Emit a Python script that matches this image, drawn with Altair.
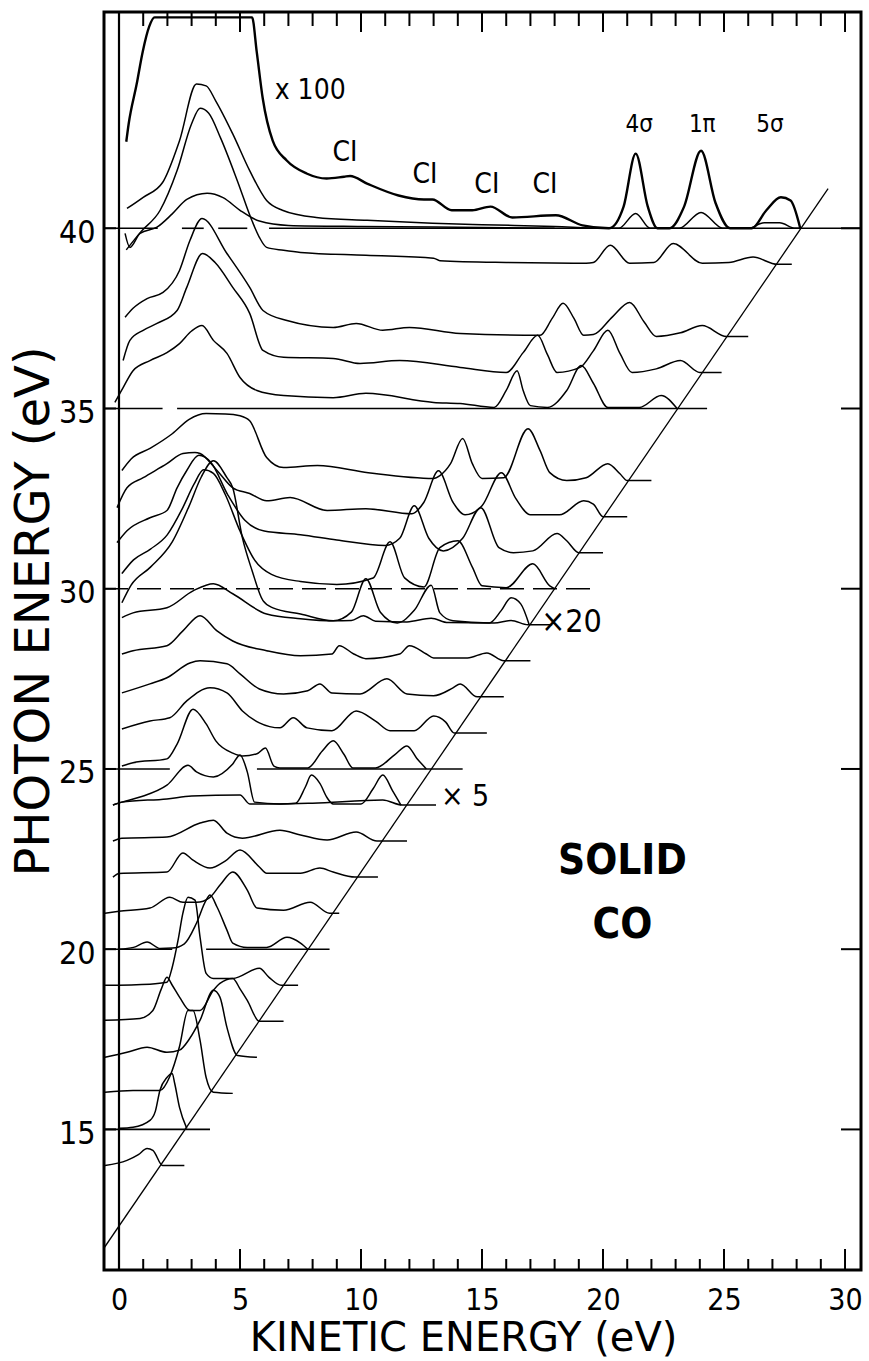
import altair as alt
import pandas as pd

# ---------------- axis ranges ----------------
XMIN, XMAX = -0.62, 30.66
YMIN, YMAX = 11.1, 46.0
W, H = 757, 1258
FONT = "DejaVu Sans Condensed, DejaVu Sans, Liberation Sans, sans-serif"
TFONT = "DejaVu Sans, Liberation Sans, sans-serif"

# ---------------- spectra (kinetic energy, height above baseline hv) -------------
ke_14 = [-0.58, 0.33, 0.8, 1.16, 1.4, 1.8, 2.7]
off_14 = [0.0, 0.14, 0.3, 0.47, 0.42, 0.0, 0.0]
ke_15 = [0.0, 0.58, 1.28, 1.5, 1.69, 1.98, 2.2, 2.3, 2.5, 2.8]
off_15 = [0.03, 0.06, 0.25, 0.5, 1.08, 1.44, 1.55, 1.28, 0.61, 0.03]
ke_16 = [-0.58, 0.58, 1.69, 2.1, 2.5, 2.85, 3.06, 3.35, 3.6, 3.9, 4.7]
off_16 = [0.03, 0.08, 0.08, 0.47, 1.3, 2.3, 2.3, 1.47, 0.44, 0.03, 0.0]
ke_17 = [-0.58, 0.33, 1.16, 1.98, 2.5, 2.9, 3.35, 3.9, 4.17, 4.46, 4.9, 5.7]
off_17 = [0.0, 0.14, 0.28, 0.14, 0.2, 0.5, 1.03, 1.86, 1.67, 0.83, 0.05, 0.0]
ke_18 = [-0.58, 0.87, 1.4, 1.75, 1.98, 2.2, 2.5, 2.93, 3.35, 3.9, 4.17, 4.7, 5.0, 5.3, 5.8, 6.8]
off_18 = [0.03, 0.08, 0.3, 0.9, 1.22, 1.0, 0.67, 0.3, 0.3, 0.86, 1.05, 1.19, 0.9, 0.58, 0.0, 0.0]
ke_19 = [-0.58, 1.28, 1.98, 2.2, 2.44, 2.64, 2.85, 3.14, 3.35, 3.6, 3.9, 4.7, 5.8, 6.2, 6.7, 7.4]
off_19 = [0.0, 0.03, 0.08, 0.5, 1.25, 2.0, 2.44, 2.36, 1.33, 0.33, 0.19, 0.19, 0.47, 0.22, 0.0, 0.0]
ke_20 = [0.0, 0.6, 1.16, 1.7, 2.2, 2.7, 3.2, 3.6, 3.76, 4.05, 4.46, 4.7, 5.3, 6.1, 6.94, 7.5, 7.8]
off_20 = [0.0, 0.05, 0.2, 0.02, 0.03, 0.15, 0.72, 1.36, 1.5, 1.17, 0.53, 0.17, 0.05, 0.05, 0.33, 0.17, 0.0]
ke_21 = [-0.58, 0.0, 1.28, 2.1, 2.64, 3.2, 3.76, 4.2, 4.7, 5.3, 5.7, 6.8, 7.9, 8.7, 9.1]
off_21 = [0.0, 0.05, 0.14, 0.44, 0.3, 0.3, 0.44, 0.8, 1.14, 0.64, 0.14, 0.08, 0.3, 0.0, 0.0]
ke_22 = [-0.25, 0.0, 1.98, 2.64, 3.06, 3.76, 4.4, 5.0, 5.8, 6.1, 7.5, 8.3, 8.85, 9.75, 10.7]
off_22 = [0.0, 0.1, 0.14, 0.67, 0.47, 0.25, 0.45, 0.75, 0.28, 0.11, 0.11, 0.25, 0.14, 0.0, 0.0]
ke_23 = [-0.25, 0.12, 1.98, 3.35, 3.9, 4.46, 5.1, 6.65, 7.5, 8.6, 9.8, 10.66, 11.9]
off_23 = [0.0, 0.08, 0.11, 0.5, 0.58, 0.22, 0.08, 0.3, 0.17, 0.03, 0.25, 0.0, 0.0]
ke_24 = [-0.25, 0.12, 1.98, 3.0, 5.0, 5.4, 6.6, 8.0, 10.9, 11.7, 13.1]
off_24 = [0.0, 0.08, 0.17, 0.25, 0.28, 0.03, 0.03, 0.05, 0.14, 0.0, 0.0]
# 24 eV spectrum magnified x5
ke_24x5 = [-0.25, 0.12, 0.87, 1.98, 2.85, 3.2, 3.9, 4.7, 5.0, 5.3, 5.6, 6.65, 7.3, 7.7, 7.95,
           8.3, 8.6, 8.85, 10.0, 10.5, 10.9, 11.3, 11.65]
off_24x5 = [0.0, 0.08, 0.22, 0.55, 1.1, 0.92, 0.78, 1.14, 1.39, 0.92, 0.08, 0.03, 0.05, 0.5, 0.83,
            0.6, 0.2, 0.03, 0.03, 0.45, 0.83, 0.4, 0.0]
ke_25 = [0.12, 0.58, 1.98, 2.4, 3.06, 3.6, 4.0, 4.7, 5.1, 5.7, 6.05, 6.4, 6.65, 7.8, 8.4, 8.85,
         9.3, 9.66, 10.6, 11.4, 11.9, 12.3, 12.7]
off_25 = [0.08, 0.17, 0.28, 0.69, 1.66, 1.25, 0.78, 0.44, 0.36, 0.42, 0.58, 0.08, 0.03, 0.03, 0.5,
          0.78, 0.4, 0.03, 0.03, 0.4, 0.64, 0.3, 0.0]
ke_26 = [0.12, 1.28, 2.1, 2.8, 3.76, 4.46, 5.1, 5.8, 6.65, 7.2, 7.77, 8.8, 9.8, 10.6, 11.2, 12.2,
         13.0, 13.5, 13.85, 15.2]
off_26 = [0.11, 0.33, 0.42, 0.89, 1.25, 1.11, 0.61, 0.28, 0.14, 0.42, 0.14, 0.06, 0.61, 0.33, 0.06,
          0.06, 0.47, 0.3, 0.0, 0.0]
ke_27 = [0.12, 1.28, 1.98, 2.93, 3.35, 4.46, 5.0, 5.8, 6.8, 7.8, 8.3, 8.8, 9.96, 11.07, 11.9, 13.0,
         13.8, 14.1, 14.8, 15.9]
off_27 = [0.11, 0.36, 0.53, 0.94, 1.0, 0.92, 0.64, 0.22, 0.08, 0.17, 0.36, 0.11, 0.08, 0.5, 0.08,
          0.03, 0.25, 0.36, 0.0, 0.0]
ke_28 = [0.12, 0.58, 1.98, 2.64, 3.35, 4.05, 4.7, 6.1, 7.5, 8.8, 9.1, 9.7, 10.2, 11.6, 12.0, 12.7,
         13.0, 14.4, 15.2, 15.9, 17.0]
off_28 = [0.19, 0.28, 0.42, 0.83, 1.25, 0.83, 0.55, 0.28, 0.14, 0.19, 0.42, 0.19, 0.06, 0.19, 0.42,
          0.19, 0.08, 0.08, 0.22, 0.0, 0.0]
ke_29 = [0.12, 0.58, 1.98, 3.06, 3.9, 4.7, 6.1, 7.5, 8.85, 9.6, 10.1, 10.6, 11.9, 12.9, 13.6,
         15.5, 16.2, 16.9, 17.9]
off_29 = [0.2, 0.33, 0.47, 0.94, 1.14, 0.86, 0.3, 0.17, 0.11, 0.12, 0.25, 0.1, 0.08, 0.18, 0.06,
          0.05, 0.12, 0.0, 0.0]
# 29 eV spectrum magnified x20
ke_29x20 = [0.12, 0.5, 1.3, 2.2, 2.9, 3.4, 3.9, 4.46, 4.7, 5.1, 5.5, 5.95, 6.36, 7.5, 8.85, 9.6,
            10.2, 10.8, 11.5, 12.2, 12.9, 13.26, 13.8, 15.3, 15.8, 16.2, 16.6, 16.95]
off_29x20 = [0.61, 1.1, 1.6, 2.3, 3.3, 4.1, 4.55, 4.08, 3.8, 2.41, 1.5, 0.67, 0.47, 0.3, 0.11, 0.35,
             1.28, 0.35, 0.05, 0.4, 1.1, 0.33, 0.11, 0.05, 0.4, 0.75, 0.58, 0.0]
ke_30 = [0.12, 0.6, 1.3, 2.0, 2.6, 3.1, 3.5, 3.9, 4.4, 5.0, 5.6, 6.3, 7.5, 9.0, 10.5, 11.2, 11.8,
         12.6, 13.26, 14.0, 14.6, 15.0, 16.0, 17.1, 17.8, 18.0]
off_30 = [0.42, 0.8, 1.1, 1.5, 2.2, 2.9, 3.3, 3.2, 2.6, 1.6, 0.8, 0.4, 0.2, 0.12, 0.3, 1.3, 0.3,
          0.05, 1.14, 1.33, 0.6, 0.08, 0.03, 0.69, 0.08, 0.0]
ke_31 = [-0.08, 0.33, 1.28, 1.98, 2.4, 2.8, 3.3, 3.8, 4.5, 5.2, 6.0, 7.5, 9.0, 11.0, 11.6, 12.2,
         12.8, 13.4, 14.2, 14.95, 15.7, 16.3, 17.1, 18.1, 18.5, 19.0, 20.0]
off_31 = [0.28, 0.61, 0.97, 1.17, 1.8, 2.28, 2.7, 2.5, 1.6, 0.9, 0.6, 0.5, 0.35, 0.2, 0.4, 1.3,
          0.4, 0.05, 0.4, 1.25, 0.14, 0.0, 0.05, 0.53, 0.33, 0.0, 0.0]
ke_32 = [-0.08, 0.33, 1.0, 1.98, 2.64, 3.14, 3.35, 4.05, 4.7, 5.4, 6.1, 7.07, 8.6, 10.2, 12.1,
         12.6, 13.2, 13.8, 14.3, 15.0, 15.8, 16.4, 17.0, 18.2, 19.2, 19.6, 20.0, 21.0]
off_32 = [0.25, 0.8, 1.08, 1.47, 1.75, 1.78, 1.75, 1.28, 0.8, 0.64, 0.44, 0.53, 0.17, 0.22, 0.08,
          0.4, 1.27, 0.4, 0.05, 0.3, 1.22, 0.5, 0.05, 0.05, 0.44, 0.35, 0.0, 0.0]
ke_33 = [0.12, 0.5, 1.3, 2.2, 2.9, 3.6, 4.4, 5.0, 5.4, 6.1, 6.8, 8.2, 10.3, 13.0, 13.26, 13.7,
         14.2, 14.6, 15.0, 15.9, 16.9, 17.4, 17.8, 18.5, 19.3, 20.2, 20.7, 21.0, 22.0]
off_33 = [0.28, 0.6, 0.9, 1.3, 1.7, 1.86, 1.85, 1.8, 1.66, 0.64, 0.36, 0.42, 0.22, 0.06, 0.14, 0.47,
          1.17, 0.47, 0.06, 0.08, 1.44, 0.83, 0.22, 0.0, 0.08, 0.47, 0.19, 0.0, 0.0]
ke_35 = [-0.17, 0.17, 0.58, 1.28, 1.98, 2.5, 3.0, 3.43, 3.9, 4.46, 5.0, 5.7, 6.8, 8.85, 10.2, 13.0,
         14.1, 15.5, 16.0, 16.45, 16.7, 17.0, 17.7, 18.5, 19.1, 19.6, 20.2, 21.5, 22.4, 23.06]
off_35 = [0.17, 0.58, 1.05, 1.33, 1.55, 1.8, 2.15, 2.3, 1.89, 1.53, 0.86, 0.5, 0.36, 0.3, 0.42, 0.17,
          0.14, 0.03, 0.5, 1.05, 0.5, 0.08, 0.03, 0.5, 1.19, 0.7, 0.03, 0.03, 0.36, 0.0]
ke_36 = [0.17, 0.45, 1.0, 1.57, 2.4, 2.8, 3.45, 3.97, 4.7, 5.4, 5.95, 6.8, 8.85, 9.96, 11.6, 14.1,
         16.0, 16.7, 17.3, 17.7, 18.1, 19.05, 19.6, 20.2, 20.7, 21.2, 22.2, 23.2, 24.0, 24.9]
off_36 = [0.33, 0.89, 1.17, 1.36, 1.72, 2.36, 3.3, 3.05, 2.36, 1.64, 0.61, 0.42, 0.39, 0.25, 0.33,
          0.14, 0.0, 0.55, 1.03, 0.5, 0.0, 0.14, 0.6, 1.17, 0.53, 0.0, 0.1, 0.33, 0.0, 0.0]
ke_37 = [0.25, 0.58, 1.16, 1.82, 2.5, 2.93, 3.43, 4.46, 5.4, 5.95, 6.94, 8.85, 9.8, 10.9, 12.0,
         14.1, 17.4, 17.9, 18.35, 18.8, 19.2, 19.6, 20.4, 21.1, 21.7, 22.2, 23.2, 24.1, 25.1, 26.0]
off_37 = [0.53, 0.78, 1.05, 1.22, 1.83, 2.66, 3.27, 2.3, 1.36, 0.72, 0.44, 0.25, 0.36, 0.17, 0.25,
          0.08, 0.03, 0.5, 0.92, 0.5, 0.03, 0.05, 0.55, 0.94, 0.4, 0.0, 0.1, 0.3, 0.0, 0.0]
ke_39 = [0.3, 0.9, 1.7, 2.4, 3.0, 3.35, 3.7, 4.2, 4.9, 5.5, 5.8, 6.1, 6.8, 7.5, 10.2, 13.0, 13.26,
         16.0, 19.3, 19.6, 20.3, 21.1, 22.1, 22.9, 24.1, 25.2, 26.2, 27.2, 27.8]
off_39 = [0.4, 0.9, 1.5, 2.6, 3.9, 4.33, 4.2, 3.5, 2.3, 1.2, 0.75, 0.47, 0.39, 0.33, 0.25, 0.17,
          0.1, 0.05, 0.03, 0.05, 0.53, 0.03, 0.05, 0.58, 0.03, 0.05, 0.2, 0.0, 0.0]
ke_40 = [0.25, 0.45, 0.87, 1.57, 2.2, 2.8, 3.64, 4.3, 5.0, 5.8, 7.0, 10.0, 14.0, 18.0]
off_40 = [-0.14, -0.53, -0.14, 0.03, 0.4, 0.8, 0.97, 0.85, 0.5, 0.2, 0.08, 0.05, 0.03, 0.0]
# 40 eV spectrum magnified x5
ke_40x5 = [0.33, 1.0, 1.8, 2.5, 3.2, 3.6, 4.0, 4.7, 5.4, 6.1, 6.75, 8.15, 10.25, 12.95, 15.0,
           18.0, 20.0, 20.65, 21.35, 21.95, 22.6, 23.15, 24.05, 24.95, 26.0, 26.65, 27.3, 27.95, 28.2]
off_40x5 = [0.55, 0.86, 1.27, 2.43, 4.0, 3.95, 3.53, 2.62, 1.6, 0.77, 0.5, 0.3, 0.22, 0.14, 0.1,
            0.05, 0.0, 0.0, 0.41, 0.0, 0.0, 0.0, 0.44, 0.0, 0.0, 0.15, 0.15, 0.0, 0.0]
# 40 eV spectrum magnified x100
ke_40x100 = [0.3, 0.4, 0.73, 0.98, 1.25, 1.47, 5.5, 5.69, 5.94, 6.35, 6.93, 7.75, 8.58, 9.3, 9.55,
             10.25, 11.55, 12.6, 12.95, 13.75, 14.6, 15.35, 16.25, 18.05, 19.15, 20.25, 20.85,
             21.35, 21.85, 22.25, 22.75, 23.35, 24.05, 24.65, 25.25, 26.15, 26.75, 27.35, 27.75, 28.15]
off_40x100 = [2.4, 2.9, 4.0, 4.9, 5.6, 5.85, 5.85, 4.9, 3.6, 2.43, 1.88, 1.52, 1.38, 1.43, 1.45,
              1.24, 0.91, 0.8, 0.8, 0.5, 0.5, 0.6, 0.3, 0.36, 0.08, 0.0, 0.6, 2.07, 0.6, 0.0,
              0.0, 0.6, 2.15, 0.7, 0.0, 0.0, 0.5, 0.86, 0.77, 0.0]

SPECTRA = [
    ("14", 14, ke_14, off_14, "normal"), ("15", 15, ke_15, off_15, "normal"),
    ("16", 16, ke_16, off_16, "normal"), ("17", 17, ke_17, off_17, "normal"),
    ("18", 18, ke_18, off_18, "normal"), ("19", 19, ke_19, off_19, "normal"),
    ("20", 20, ke_20, off_20, "normal"), ("21", 21, ke_21, off_21, "normal"),
    ("22", 22, ke_22, off_22, "normal"), ("23", 23, ke_23, off_23, "normal"),
    ("24", 24, ke_24, off_24, "normal"), ("24x5", 24, ke_24x5, off_24x5, "normal"),
    ("25", 25, ke_25, off_25, "normal"),
    ("26", 26, ke_26, off_26, "normal"), ("27", 27, ke_27, off_27, "normal"),
    ("28", 28, ke_28, off_28, "normal"), ("29", 29, ke_29, off_29, "normal"),
    ("29x20", 29, ke_29x20, off_29x20, "normal"),
    ("30", 30, ke_30, off_30, "normal"), ("31", 31, ke_31, off_31, "normal"),
    ("32", 32, ke_32, off_32, "normal"), ("33", 33, ke_33, off_33, "normal"),
    ("35", 35, ke_35, off_35, "normal"), ("36", 36, ke_36, off_36, "normal"),
    ("37", 37, ke_37, off_37, "normal"), ("39", 39, ke_39, off_39, "normal"),
    ("40", 40, ke_40, off_40, "normal"), ("40x5", 40, ke_40x5, off_40x5, "normal"),
    ("40x100", 40, ke_40x100, off_40x100, "x100"),
]

# reference baselines drawn across the panel
ref_hv = [40, 40, 40, 40, 35, 35, 30, 25, 25, 20, 20, 15]
ref_from = [-0.62, 2.6, 4.1, 6.2, -0.62, 2.4, -0.62, -0.62, 5.7, -0.62, 3.6, -0.62]
ref_to = [1.6, 3.5, 5.3, 30.66, 1.8, 24.3, 19.5, 2.1, 14.2, 2.2, 8.7, 3.76]
ref_dashed = [False, False, False, False, False, False, True, False, False, False, False, False]

# threshold line (kinetic energy cut-off vs photon energy)
diag_ke = [-0.62, 29.3]
diag_hv = [11.71, 41.1]

# tick values
x_ticks = list(range(0, 31))
y_major = [15, 20, 25, 30, 35, 40]

# annotations
ann_text = ["x 100", "CI", "CI", "CI", "CI", "4σ", "1π", "5σ", "×20", "× 5"]
ann_ke = [7.9, 9.34, 12.64, 15.2, 17.6, 21.5, 24.1, 26.9, 18.7, 14.3]
ann_hv = [43.8, 42.1, 41.47, 41.19, 41.19, 42.86, 42.86, 42.86, 29.07, 24.21]
ann_size = [28, 28, 28, 28, 28, 24, 24, 24, 32, 30]
big_text = ["SOLID", "CO"]
big_ke = [20.8, 20.8]
big_hv = [22.46, 20.66]

# ---------------- tables ----------------
rows = []
for name, hv, ke, off, kind in SPECTRA:
    for i, (k, o) in enumerate(zip(ke, off)):
        rows.append({"name": name, "kind": kind, "i": i, "ke": k, "y": hv + o})
df = pd.DataFrame(rows)

ref_df = pd.DataFrame({"y": ref_hv, "x1": ref_from, "x2": ref_to, "dashed": ref_dashed})
diag_df = pd.DataFrame({"ke": diag_ke, "y": diag_hv, "i": [0, 1]})
zero_df = pd.DataFrame({"ke": [0.0], "y1": [YMIN], "y2": [YMAX]})
xt_df = pd.DataFrame({"k": x_ticks, "major": [k % 5 == 0 for k in x_ticks]})
yt_df = pd.DataFrame({"v": y_major})
ann_df = pd.DataFrame({"t": ann_text, "ke": ann_ke, "y": ann_hv, "fs": ann_size})
big_df = pd.DataFrame({"t": big_text, "ke": big_ke, "y": big_hv})

xs = alt.Scale(domain=[XMIN, XMAX], nice=False, zero=False)
ys = alt.Scale(domain=[YMIN, YMAX], nice=False, zero=False)

x_axis = alt.Axis(values=list(range(0, 31, 5)), format="d", ticks=False, domain=False, grid=False,
                  labelFont=FONT, labelFontSize=30, labelPadding=15, labelColor="black",
                  title="KINETIC ENERGY (eV)", titleFont=TFONT, titleFontSize=40,
                  titleFontWeight="normal", titleColor="black", titleX=359, titleY=80,
                  titleAlign="center", titleBaseline="alphabetic")
y_axis = alt.Axis(values=y_major, format="d", ticks=False, domain=False, grid=False,
                  labelFont=FONT, labelFontSize=32, labelPadding=9, labelColor="black",
                  labelOffset=4,
                  title="PHOTON ENERGY (eV)", titleFont=TFONT, titleFontSize=48,
                  titleFontWeight="normal", titleColor="black", titleAngle=270,
                  titleX=-56, titleY=599, titleAlign="center", titleBaseline="alphabetic")


def X(field):
    return alt.X(field, scale=xs, axis=x_axis)


def Y(field):
    return alt.Y(field, scale=ys, axis=y_axis)


spec_normal = alt.Chart(df[df.kind == "normal"]).mark_line(
    interpolate="monotone", color="black", strokeWidth=1.5, clip=True
).encode(x=X("ke:Q"), y=Y("y:Q"), detail="name:N", order="i:Q")
spec_x100 = alt.Chart(df[df.kind == "x100"]).mark_line(
    interpolate="monotone", color="black", strokeWidth=2.4, clip=True
).encode(x=X("ke:Q"), y=Y("y:Q"), detail="name:N", order="i:Q")
ref_solid = alt.Chart(ref_df[~ref_df.dashed]).mark_rule(color="black", strokeWidth=1.6).encode(
    x=X("x1:Q"), x2="x2:Q", y=Y("y:Q"))
ref_dash = alt.Chart(ref_df[ref_df.dashed]).mark_rule(
    color="black", strokeWidth=1.6, strokeDash=[24, 9]).encode(x=X("x1:Q"), x2="x2:Q", y=Y("y:Q"))
diag = alt.Chart(diag_df).mark_line(color="black", strokeWidth=1.3, clip=True).encode(
    x=X("ke:Q"), y=Y("y:Q"), order="i:Q")
zero_line = alt.Chart(zero_df).mark_rule(color="black", strokeWidth=2.2).encode(
    x=X("ke:Q"), y=Y("y1:Q"), y2="y2:Q")

bt_minor = alt.Chart(xt_df[~xt_df.major]).mark_rule(color="black", strokeWidth=2).encode(
    x=X("k:Q"), y=alt.value(H), y2=alt.value(H - 11))
bt_major = alt.Chart(xt_df[xt_df.major]).mark_rule(color="black", strokeWidth=2).encode(
    x=X("k:Q"), y=alt.value(H), y2=alt.value(H - 21))
tp_minor = alt.Chart(xt_df[~xt_df.major]).mark_rule(color="black", strokeWidth=2).encode(
    x=X("k:Q"), y=alt.value(0), y2=alt.value(14))
tp_major = alt.Chart(xt_df[xt_df.major]).mark_rule(color="black", strokeWidth=2).encode(
    x=X("k:Q"), y=alt.value(0), y2=alt.value(20))
lt = alt.Chart(yt_df).mark_rule(color="black", strokeWidth=2).encode(
    y=Y("v:Q"), x=alt.value(0), x2=alt.value(12))
rt = alt.Chart(yt_df).mark_rule(color="black", strokeWidth=2).encode(
    y=Y("v:Q"), x=alt.value(W), x2=alt.value(W - 20))

ann = alt.Chart(ann_df).mark_text(font=FONT, color="black", align="center",
                                  baseline="middle").encode(
    x=X("ke:Q"), y=Y("y:Q"), text="t:N", size=alt.Size("fs:Q", scale=None, legend=None))
big = alt.Chart(big_df).mark_text(font=FONT, color="black", align="center", baseline="middle",
                                  fontSize=42, fontWeight="bold").encode(
    x=X("ke:Q"), y=Y("y:Q"), text="t:N")

chart = alt.layer(
    spec_normal, spec_x100, ref_solid, ref_dash, diag, zero_line,
    bt_minor, bt_major, tp_minor, tp_major, lt, rt, ann, big,
).properties(
    width=W, height=H,
    autosize=alt.AutoSizeParams(type="none"),
    padding={"left": 104, "top": 12, "right": 8, "bottom": 91},
    background="white",
).configure_view(stroke="black", strokeWidth=3)

chart.save("out.html", embed_options={"renderer": "svg", "actions": False})
